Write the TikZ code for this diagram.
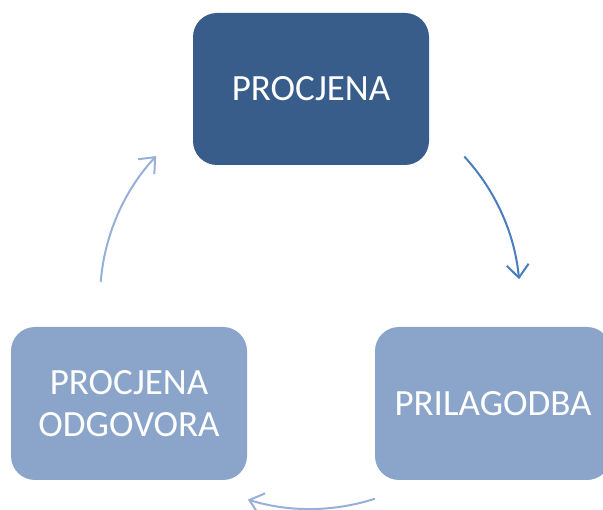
\documentclass[tikz,border=0pt]{standalone}
\usepackage{fontspec}
\setmainfont{Carlito}
\usetikzlibrary{arrows.meta,calc}
\definecolor{darkbox}{HTML}{395D8A}
\definecolor{lightbox}{HTML}{8AA4CA}
\definecolor{arrowdark}{HTML}{4A7DBD}
\definecolor{arrowlight}{HTML}{98B0D9}
\tikzset{
  box/.style={rounded corners=24pt, minimum width=236pt, minimum height=152pt,
    text=white, font=\fontsize{37}{42}\selectfont, align=center, inner sep=0pt},
  cyc/.style={line width=2pt, -{Straight Barb[length=13pt,width=22pt,line width=2pt]}}
}
\begin{document}
\begin{tikzpicture}[x=1pt,y=1pt]
\useasboundingbox (0,0) rectangle (603,510);
\clip (0,0) rectangle (603,510);
\coordinate (c) at (310,211);
\node[box, fill=darkbox] (top) at (311,421) {PROCJENA};
\node[box, fill=lightbox, minimum height=153pt] (right) at (493,106.5) {PRILAGODBA};
\node[box, fill=lightbox, minimum height=153pt] (left) at (129,106.5) {PROCJENA\\ODGOVORA};
\coordinate (s1) at ($(c)+(42.7:210pt)$);
\coordinate (s2) at ($(c)+(-72:210pt)$);
\coordinate (s3) at ($(c)+(175.3:210pt)$);
\draw[cyc, arrowdark] (s1) arc[start angle=42.7, end angle=5.4, radius=210pt];
\draw[cyc, arrowlight] (s2) arc[start angle=-72, end angle=-107.2, radius=210pt];
\draw[cyc, arrowlight] (s3) arc[start angle=175.3, end angle=137.1, radius=210pt];
\end{tikzpicture}
\end{document}
